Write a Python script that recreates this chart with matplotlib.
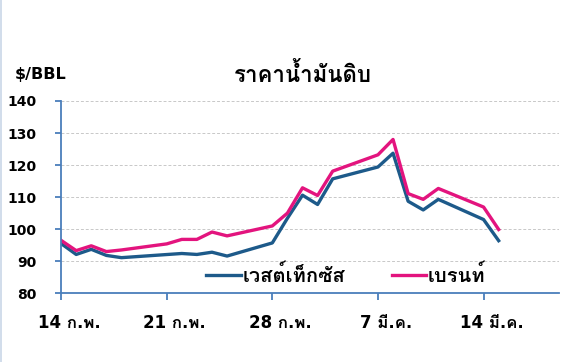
import numpy as np
import pandas as pd
import matplotlib
matplotlib.use("Agg")
import matplotlib.pyplot as plt
import matplotlib.transforms as mtransforms
from matplotlib import font_manager
from matplotlib.ft2font import FT2Font

# ข้อมูลราคาน้ำมันดิบ ($/BBL)
wti_dates = ["2022-02-14", "2022-02-15", "2022-02-16", "2022-02-17", "2022-02-18",
             "2022-02-22", "2022-02-23", "2022-02-24", "2022-02-25", "2022-02-28",
             "2022-03-01", "2022-03-02", "2022-03-03", "2022-03-04", "2022-03-07",
             "2022-03-08", "2022-03-09", "2022-03-10", "2022-03-11", "2022-03-14",
             "2022-03-15"]
wti = [95.5, 92.1, 93.7, 91.8, 91.1,
       92.4, 92.1, 92.8, 91.6, 95.7,
       103.4, 110.6, 107.7, 115.7, 119.4,
       123.7, 108.7, 106.0, 109.3, 103.0,
       96.4]

brent_dates = ["2022-02-14", "2022-02-15", "2022-02-16", "2022-02-17", "2022-02-18",
               "2022-02-21", "2022-02-22", "2022-02-23", "2022-02-24", "2022-02-25",
               "2022-02-28", "2022-03-01", "2022-03-02", "2022-03-03", "2022-03-04",
               "2022-03-07", "2022-03-08", "2022-03-09", "2022-03-10", "2022-03-11",
               "2022-03-14", "2022-03-15"]
brent = [96.5, 93.3, 94.8, 93.0, 93.5,
         95.4, 96.8, 96.8, 99.1, 97.9,
         101.0, 105.0, 112.9, 110.5, 118.1,
         123.2, 128.0, 111.1, 109.3, 112.7,
         106.9, 99.9]

tick_dates = ["2022-02-14", "2022-02-21", "2022-02-28", "2022-03-07", "2022-03-14"]
tick_labels = ["14 ก.พ.", "21 ก.พ.", "28 ก.พ.", "7 มี.ค.", "14 มี.ค."]


# หาฟอนต์ที่มีอักษรไทย
def find_thai_font():
    for f in font_manager.fontManager.ttflist:
        try:
            if FT2Font(f.fname).get_char_index(ord("ร")):
                return f.name
        except Exception:
            pass
    return None


thai = find_thai_font()
families = ["DejaVu Sans"] + ([thai] if thai else [])
plt.rcParams["font.family"] = families
plt.rcParams["font.weight"] = "bold"

fig = plt.figure(figsize=(5.71, 3.62), dpi=100)
ax = fig.add_axes([0.107, 0.19, 0.872, 0.531])

ax.plot(pd.to_datetime(wti_dates), wti, color="#1D5A8A", lw=2.4, label="เวสต์เท็กซัส")
ax.plot(pd.to_datetime(brent_dates), brent, color="#E3147E", lw=2.4, label="เบรนท์")

ax.set_ylim(80, 140)
ax.set_yticks(np.arange(80, 141, 10))
ax.set_xlim(pd.Timestamp("2022-02-14"), pd.Timestamp("2022-03-19"))
ax.set_xticks(pd.to_datetime(tick_dates))
ax.set_xticklabels(tick_labels)

ax.grid(axis="y", color="#C8C8C8", linestyle=(0, (3, 2)), lw=0.7)
ax.set_axisbelow(True)
for s in ["top", "right"]:
    ax.spines[s].set_visible(False)
for s in ["left", "bottom"]:
    ax.spines[s].set_color("#4A7EBB")
    ax.spines[s].set_linewidth(1.3)
ax.tick_params(axis="x", colors="#4A7EBB", length=5, width=1.3, pad=10, labelcolor="black", labelsize=12)
ax.tick_params(axis="y", colors="#4A7EBB", length=4, width=1.3, pad=14, labelcolor="black", labelsize=10)

# ป้ายวันที่เลื่อนไปทางขวาเล็กน้อยเหมือนต้นฉบับ
shift = mtransforms.ScaledTranslation(0.08, 0, fig.dpi_scale_trans)
for lab in ax.get_xticklabels():
    lab.set_transform(lab.get_transform() + shift)

fig.text(0.026, 0.795, "$/BBL", fontsize=11.5, fontweight="bold", va="center")
fig.text(0.53, 0.795, "ราคาน้ำมันดิบ", fontsize=16, fontweight="bold", ha="center", va="center")

ax.legend(loc="center", bbox_to_anchor=(0.572, 0.095), ncol=2, frameon=False,
          fontsize=14.5, handlelength=1.7, columnspacing=2.3, handletextpad=0.1)

# เส้นขอบซ้ายจาง ๆ
fig.add_artist(plt.Line2D([0.002, 0.002], [0, 1], color="#C9D7E8", lw=1.2))

fig.savefig("out.png", dpi=100)
